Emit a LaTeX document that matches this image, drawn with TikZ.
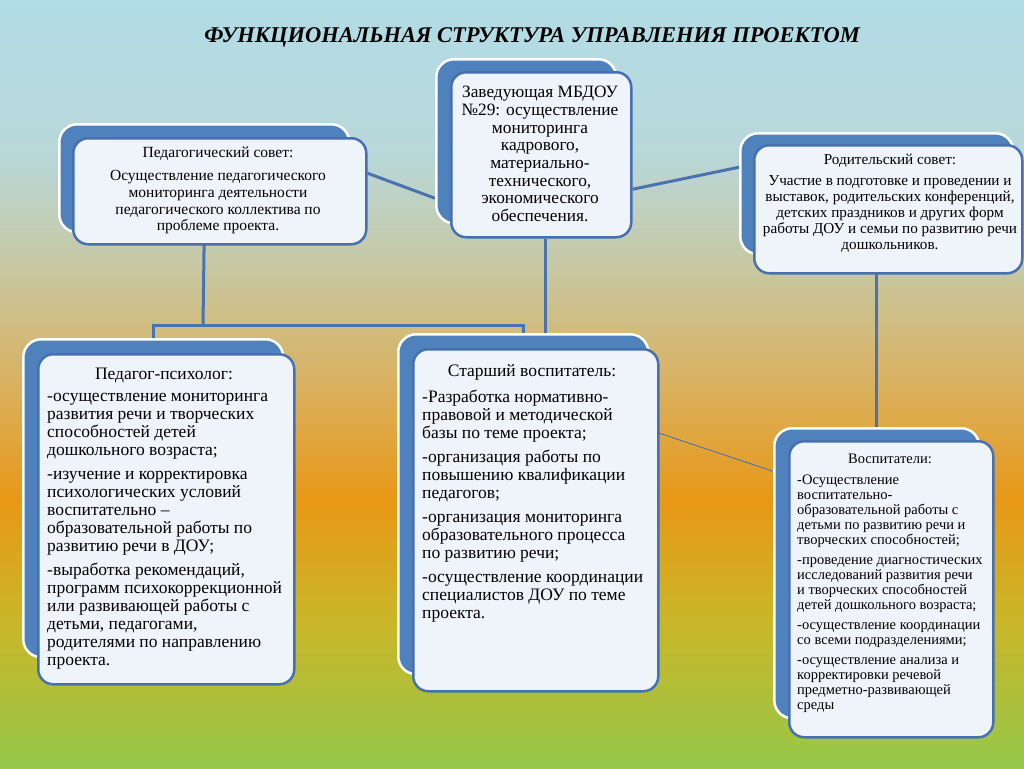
\documentclass[tikz,border=0pt]{standalone}
\usepackage{fontspec}
\setmainfont{Liberation Serif}
\newcommand\fsz[2]{\fontsize{#1}{#2}\selectfont}
\definecolor{bgA}{RGB}{178,220,230}
\definecolor{bgB}{RGB}{184,216,218}
\definecolor{bgC}{RGB}{198,201,166}
\definecolor{bgD}{RGB}{217,178,98}
\definecolor{bgE}{RGB}{232,152,22}
\definecolor{bgF}{RGB}{202,182,40}
\definecolor{bgG}{RGB}{150,200,74}
\definecolor{boxblue}{RGB}{79,129,189}
\definecolor{edgeblue}{RGB}{70,112,176}
\definecolor{boxfill}{RGB}{239,243,250}
\definecolor{linkblue}{RGB}{74,114,176}
\pgfdeclareverticalshading{bgshade}{100bp}{color(0bp)=(bgG); color(25bp)=(bgG); color(34.64bp)=(bgF); color(42.45bp)=(bgE); color(50.26bp)=(bgD); color(58.07bp)=(bgC); color(65.23bp)=(bgB); color(75bp)=(bgA); color(100bp)=(bgA)}
\pgfdeclarelayer{backlayer}
\pgfdeclarelayer{connlayer}
\pgfsetlayers{backlayer,connlayer,main}
\begin{document}
\begin{tikzpicture}[x=1pt,y=-1pt,
  backbox/.style={draw=white, line width=2.5pt, fill=boxblue, rounded corners=18pt, inner sep=0pt, anchor=north west},
  frontbox/.style={draw=edgeblue, line width=2.5pt, fill=boxfill, rounded corners=15pt, inner sep=0pt, anchor=north west},
  link/.style={draw=linkblue, line width=3pt},
  thinlink/.style={draw=linkblue, line width=0.9pt},
  txt/.style={inner sep=0pt, text=black}]
\useasboundingbox (0,0) rectangle (1024,768);
\begin{pgfonlayer}{backlayer}
\shade[shading=bgshade] (0,0) rectangle (1024,768);
\end{pgfonlayer}
% title
\node[txt, font=\fsz{22.5}{26}\bfseries\itshape] (title) at (532,37) {ФУНКЦИОНАЛЬНАЯ СТРУКТУРА УПРАВЛЕНИЯ ПРОЕКТОМ};
% boxes
\node[backbox, minimum width=290pt, minimum height=108pt] (psb) at (58,123) {};
\node[frontbox, minimum width=293pt, minimum height=106pt] (psf) at (72,137) {};
\node[backbox, minimum width=180pt, minimum height=164pt] (zb) at (435,58) {};
\node[frontbox, minimum width=180pt, minimum height=165pt] (zf) at (450,71) {};
\node[backbox, minimum width=273pt, minimum height=121pt] (rb) at (739,132) {};
\node[frontbox, minimum width=268pt, minimum height=128pt] (rf) at (753,144) {};
\node[backbox, minimum width=260pt, minimum height=318pt] (ppb) at (22,338) {};
\node[frontbox, minimum width=256pt, minimum height=330pt] (ppf) at (37,353) {};
\node[backbox, minimum width=250pt, minimum height=340pt] (svb) at (397,333) {};
\node[frontbox, minimum width=245pt, minimum height=342pt] (svf) at (412,348) {};
\node[backbox, minimum width=205pt, minimum height=290pt] (vb) at (773,427) {};
\node[frontbox, minimum width=204pt, minimum height=296pt] (vf) at (788,440) {};
% texts
\node[txt, font=\fsz{15.5}{16.7}, align=center, anchor=north] (pst) at (218,147) {Педагогический совет:\\[6.3pt]Осуществление педагогического\\мониторинга деятельности\\педагогического коллектива по\\проблеме проекта.};
\node[txt, font=\fsz{17.3}{17.7}, align=center, anchor=north] (zt) at (540,86) {Заведующая МБДОУ\\№29: осуществление\\мониторинга\\кадрового,\\материально-\\технического,\\экономического\\обеспечения.};
\node[txt, font=\fsz{15.2}{16}, align=center, anchor=north] (rt) at (890,153.4) {Родительский совет:\\[5pt]Участие в подготовке и проведении и\\выставок, родительских конференций,\\детских праздников и других форм\\работы ДОУ и семьи по развитию речи\\дошкольников.};
\node[txt, font=\fsz{17.5}{18}, anchor=north] (ppt) at (164,368.2) {Педагог-психолог:};
\node[txt, font=\fsz{17.5}{18}, align=left, anchor=north west] (ppx) at (47,393) {-осуществление мониторинга\\развития речи и творческих\\способностей детей\\дошкольного возраста;\\[6pt]-изучение и корректировка\\психологических условий\\воспитательно –\\образовательной работы по\\развитию речи в ДОУ;\\[6pt]-выработка рекомендаций,\\программ психокоррекционной\\или развивающей работы с\\детьми, педагогами,\\родителями по направлению\\проекта.};
\node[txt, font=\fsz{17.5}{18}, anchor=north] (svt) at (532,364.2) {Старший воспитатель:};
\node[txt, font=\fsz{17.5}{18}, align=left, anchor=north west] (svx) at (422,390.2) {-Разработка нормативно-\\правовой и методической\\базы по теме проекта;\\[6pt]-организация работы по\\повышению квалификации\\педагогов;\\[6pt]-организация мониторинга\\образовательного процесса\\по развитию речи;\\[6pt]-осуществление координации\\специалистов ДОУ по теме\\проекта.};
\node[txt, font=\fsz{14.5}{15}, anchor=north] (vt) at (890,453.5) {Воспитатели:};
\node[txt, font=\fsz{14.5}{15}, align=left, anchor=north west] (vx) at (797,474.5) {-Осуществление\\воспитательно-\\образовательной работы с\\детьми по развитию речи и\\творческих способностей;\\[5pt]-проведение диагностических\\исследований развития речи\\и творческих способностей\\детей дошкольного возраста;\\[5pt]-осуществление координации\\со всеми подразделениями;\\[5pt]-осуществление анализа и\\корректировки речевой\\предметно-развивающей\\среды};
% connectors
\coordinate (j1) at (203,325);
\begin{pgfonlayer}{connlayer}
\draw[link] ([yshift=18pt]psf.east) -- ([yshift=-57pt]zb.west);
\draw[link] ([yshift=-34.5pt]zf.east) -- ([yshift=26.5pt]rb.west);
\draw[link] (psb.south) -- (j1);
\draw[link] (ppb.north) |- (j1) -| (svb.north);
\draw[link] ([xshift=4pt]zf.south) -- ([xshift=4pt]zf.south |- svb.north);
\draw[link] (rb.south) -- (rb.south |- vb.north);
\draw[thinlink] ([yshift=87pt]svf.east) -- ([yshift=102pt]vb.west);
\end{pgfonlayer}
\end{tikzpicture}
\end{document}
